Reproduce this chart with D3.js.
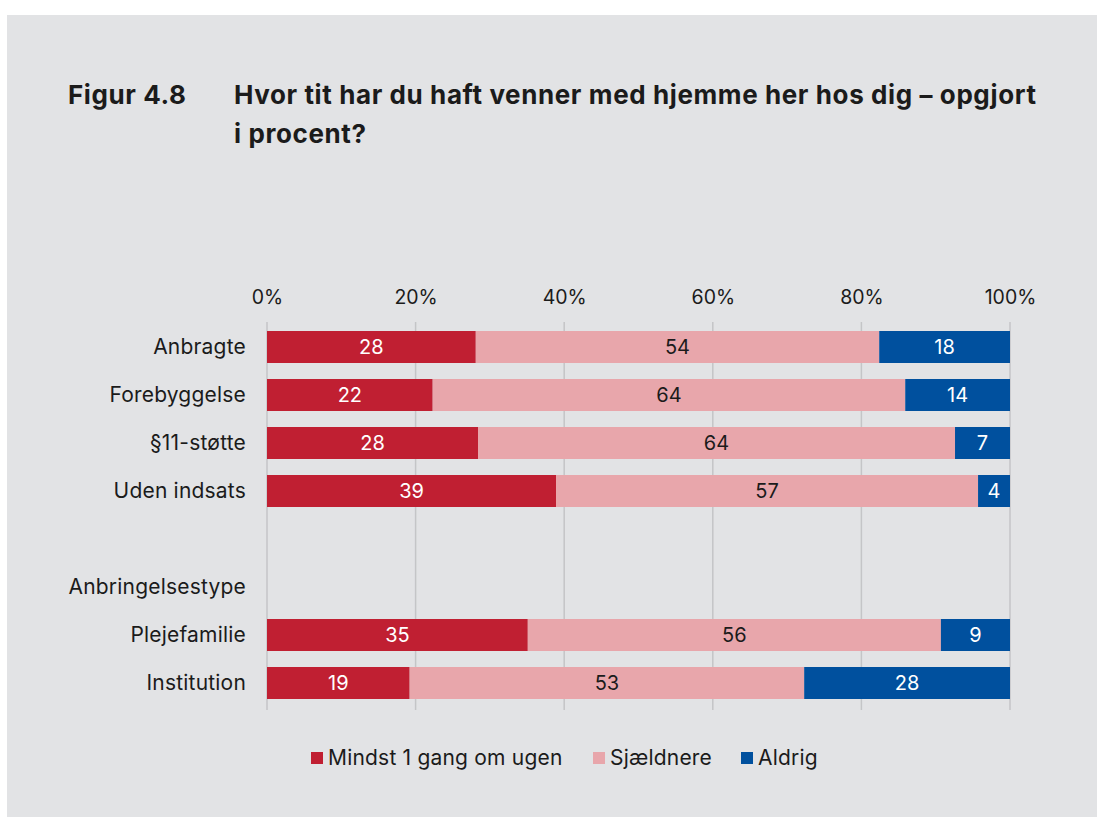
<!DOCTYPE html>
<html>
<head>
<meta charset="utf-8">
<script src="https://cdn.jsdelivr.net/npm/d3@7"></script>
<style>
  body { margin: 0; background: #fff; }
  svg text { font-family: Inter, "Noto Sans", sans-serif; fill: #1b1b1b; }
</style>
</head>
<body>
<div id="chart"></div>
<script>
// categories (blank entries are spacer / group header rows)
var categories = ["Anbragte", "Forebyggelse", "§11-støtte", "Uden indsats", "", "Anbringelsestype", "Plejefamilie", "Institution"];
var seriesNames = ["Mindst 1 gang om ugen", "Sjældnere", "Aldrig"];
var mindst = [28.1, 22.3, 28.4, 38.9, null, null, 35.1, 19.2];
var sjaeldnere = [54.3, 63.6, 64.2, 56.8, null, null, 55.6, 53.1];
var aldrig = [17.6, 14.1, 7.4, 4.3, null, null, 9.3, 27.7];
var tickValues = [0, 20, 40, 60, 80, 100];
var colors = ["#c01f32", "#e8a6ab", "#00509e"];
var labelColors = ["#fff", "#1b1b1b", "#fff"];

var svgWidth = 1097;
var svgHeight = 817;

var svg = d3.select("#chart").append("svg")
  .attr("width", svgWidth)
  .attr("height", svgHeight);

// gray panel
svg.append("rect")
  .attr("x", 7).attr("y", 15)
  .attr("width", svgWidth - 7).attr("height", svgHeight - 15)
  .attr("fill", "#e2e3e5");

// title
function titleText(tx, ty, s) {
  svg.append("text").attr("x", tx).attr("y", ty)
    .style("font-size", "26px").style("font-weight", 700)
    .style("letter-spacing", "0.6px")
    .text(s);
}
titleText(68, 104, "Figur 4.8");
titleText(234, 104, "Hvor tit har du haft venner med hjemme her hos dig – opgjort");
titleText(234, 143, "i procent?");

var x = d3.scaleLinear().domain([0, 100]).range([267, 1010]);
var y = d3.scaleBand().domain(categories.map(function(d, i) { return i; }))
  .range([323, 707]).paddingInner(1/3).paddingOuter(1/6);

// gridlines
svg.append("g").selectAll("line")
  .data(tickValues).enter().append("line")
  .attr("x1", d => x(d)).attr("x2", d => x(d))
  .attr("y1", 322).attr("y2", 710)
  .attr("stroke", "#c4c5c7").attr("stroke-width", 1.5);

// top axis labels
var topAxis = d3.axisTop(x).tickValues(tickValues).tickFormat(d => d + "%").tickSize(0).tickPadding(0);
var axG = svg.append("g").attr("transform", "translate(0, 304)").call(topAxis);
axG.select(".domain").remove();
axG.selectAll("text").style("font-size", "19.5px").attr("fill", "#1b1b1b").attr("dy", 0)
  .attr("font-family", null);

// category labels
svg.append("g").selectAll("text")
  .data(categories).enter().append("text")
  .attr("x", 246)
  .attr("y", (d, i) => y(i) + y.bandwidth() / 2)
  .attr("dy", "0.35em")
  .attr("text-anchor", "end")
  .style("font-size", "21px")
  .style("letter-spacing", "0.2px")
  .text(d => d);

// stacked rows
var rows = categories.map(function(c, i) {
  return { cat: c, i: i, vals: [mindst[i], sjaeldnere[i], aldrig[i]] };
}).filter(r => r.vals[0] != null);

var segs = [];
rows.forEach(function(r) {
  var start = 0;
  r.vals.forEach(function(v, k) {
    segs.push({ i: r.i, k: k, x0: start, x1: start + v, v: v });
    start += v;
  });
});

svg.append("g").selectAll("rect")
  .data(segs).enter().append("rect")
  .attr("x", d => x(d.x0))
  .attr("y", d => y(d.i))
  .attr("width", d => x(d.x1) - x(d.x0))
  .attr("height", y.bandwidth())
  .attr("fill", d => colors[d.k]);

svg.append("g").selectAll("text")
  .data(segs).enter().append("text")
  .attr("x", d => (x(d.x0) + x(d.x1)) / 2)
  .attr("y", d => y(d.i) + y.bandwidth() / 2)
  .attr("dy", "0.35em")
  .attr("text-anchor", "middle")
  .style("font-size", "20px")
  .style("fill", d => labelColors[d.k])
  .text(d => Math.round(d.v));

// legend
var legendX = [311, 593, 741];
var legend = svg.append("g").selectAll("g")
  .data(seriesNames).enter().append("g")
  .attr("transform", (d, k) => `translate(${legendX[k]}, 758)`);
legend.append("rect")
  .attr("x", 0).attr("y", -6).attr("width", 12).attr("height", 12)
  .attr("fill", (d, k) => colors[k]);
legend.append("text")
  .attr("x", 17).attr("dy", "0.35em")
  .style("font-size", "21px")
  .style("letter-spacing", "0.2px")
  .text(d => d);
</script>
</body>
</html>
